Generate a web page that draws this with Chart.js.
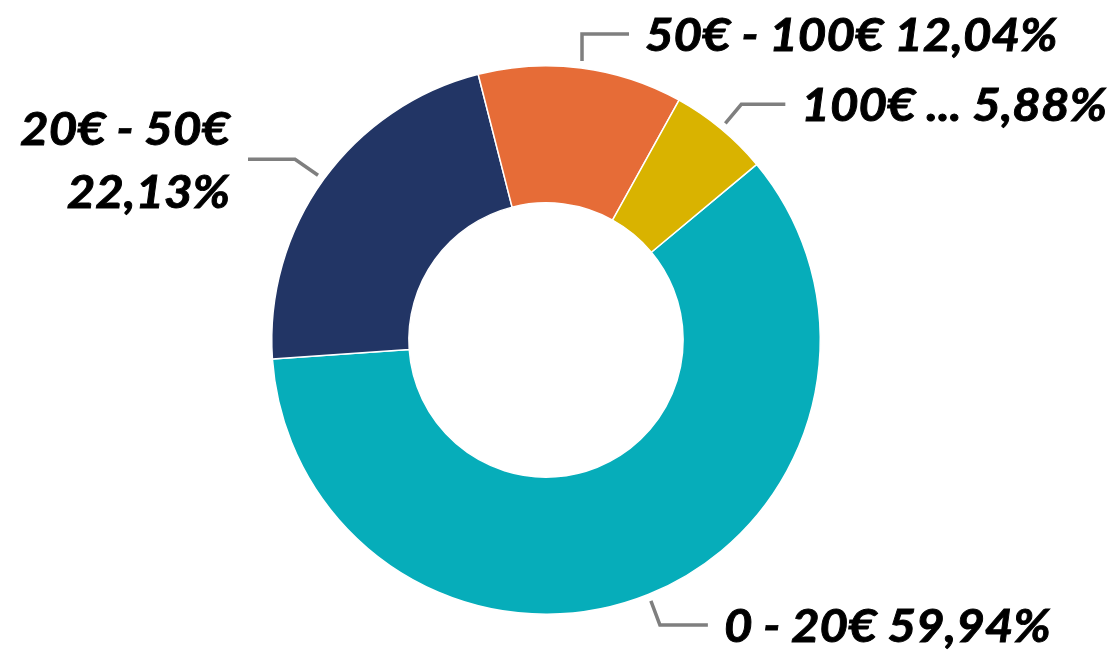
<!DOCTYPE html>
<html>
<head>
<meta charset="utf-8">
<script src="https://cdn.jsdelivr.net/npm/chart.js@4"></script>
<style>
  html, body { margin: 0; padding: 0; background: #ffffff; }
  #wrap { width: 1118px; height: 658px; }
</style>
</head>
<body>
<div id="wrap"><canvas id="donut-chart"></canvas></div>
<script>
const categories = ['0 - 20€', '20€ - 50€', '50€ - 100€', '100€ ...'];
const shares = [59.94, 22.13, 12.04, 5.88];
const colors = ['#06ADBA', '#223565', '#E66C37', '#D9B300'];

// leader line + text placement relative to the slice's leader start point
const labelLayout = [
  { elbow: [9, 24], end: [57, 24], lines: 1 },
  { elbow: [-23, -16], end: [-70, -16], lines: 2 },
  { elbow: [0, -27], end: [47, -27], lines: 1 },
  { elbow: [16, -19], end: [60, -19], lines: 1 }
];

const fmt = v => v.toFixed(2).replace('.', ',') + '%';

// text a bit wider and heavier, closer to the original Calibri look
function drawText(ctx, text, x, y, align) {
  ctx.save();
  ctx.translate(x, y);
  ctx.scale(1.07, 1);
  ctx.textAlign = align;
  ctx.lineWidth = 0.9;
  ctx.strokeStyle = '#000000';
  ctx.fillText(text, 0, 0);
  ctx.strokeText(text, 0, 0);
  ctx.restore();
}

const leaderLabels = {
  id: 'leaderLabels',
  afterDraw(chart) {
    const ctx = chart.ctx;
    const meta = chart.getDatasetMeta(0);
    ctx.save();
    ctx.font = 'italic bold 46px Lato';
    ctx.textBaseline = 'middle';
    meta.data.forEach((arc, i) => {
      const { x, y, startAngle, endAngle, outerRadius } = arc.getProps(['x', 'y', 'startAngle', 'endAngle', 'outerRadius'], true);
      const mid = (startAngle + endAngle) / 2;
      const r = outerRadius + 7;
      const sx = x + Math.cos(mid) * r;
      const sy = y + Math.sin(mid) * r;
      const lay = labelLayout[i];
      const ex = sx + lay.end[0], ey = sy + lay.end[1];

      ctx.strokeStyle = '#7F7F7F';
      ctx.lineWidth = 3.5;
      ctx.beginPath();
      ctx.moveTo(sx, sy);
      ctx.lineTo(sx + lay.elbow[0], sy + lay.elbow[1]);
      ctx.lineTo(ex, ey);
      ctx.stroke();

      ctx.fillStyle = '#000000';
      if (lay.lines === 2) {
        drawText(ctx, categories[i], ex - 18, ey - 29, 'right');
        drawText(ctx, fmt(shares[i]), ex - 18, ey + 34, 'right');
      } else {
        drawText(ctx, categories[i] + ' ' + fmt(shares[i]), ex + 16, ey + 2, 'left');
      }
    });
    ctx.restore();
  }
};

new Chart(document.getElementById('donut-chart'), {
  type: 'doughnut',
  data: {
    labels: categories,
    datasets: [{
      data: shares,
      backgroundColor: colors,
      borderColor: '#ffffff',
      borderWidth: 1.5
    }]
  },
  options: {
    responsive: true,
    maintainAspectRatio: false,
    animation: false,
    rotation: 50.2,
    cutout: '50%',
    layout: { padding: { top: 65, bottom: 43, left: 0, right: 26 } },
    plugins: {
      legend: { display: false },
      tooltip: { enabled: false }
    }
  },
  plugins: [leaderLabels]
});
</script>
</body>
</html>
